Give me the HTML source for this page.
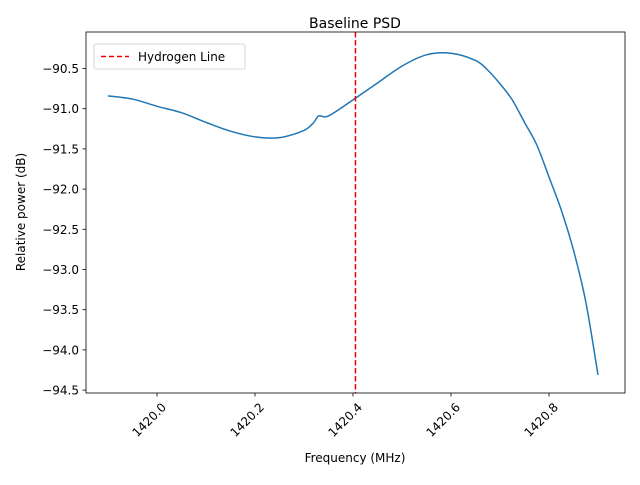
<!DOCTYPE html>
<html><head><meta charset="utf-8"><style>
body{margin:0;background:#fff;font-family:"Liberation Sans","DejaVu Sans",sans-serif}
svg text{font-family:"DejaVu Sans","Liberation Sans",sans-serif;font-size:12px;fill:#000}
</style></head><body>
<svg id="chart" width="640" height="480" xmlns="http://www.w3.org/2000/svg">
<rect width="640" height="480" fill="#fff"/>
<text x="355" y="28" text-anchor="middle" style="font-size:14px">Baseline PSD</text>
<g id="plot"></g>
<rect x="86" y="32" width="539" height="361" fill="none" stroke="#000" stroke-width="0.8"/>
<text x="355" y="462" text-anchor="middle">Frequency (MHz)</text>
<text transform="translate(25,212) rotate(-90)" text-anchor="middle">Relative power (dB)</text>
<g>
<rect x="94" y="44" width="151" height="25" rx="2" fill="#fff" stroke="#ccc" stroke-width="0.8"/>
<line x1="101" y1="56.5" x2="129" y2="56.5" stroke="#e00" stroke-width="1.5" stroke-dasharray="5,3"/>
<text x="138" y="61">Hydrogen Line</text>
</g>
</svg>
<script>
const freqs=[1419.9,1419.95,1420.0,1420.05,1420.1,1420.15,1420.2,1420.25,1420.3,1420.32,1420.33,1420.35,1420.4,1420.45,1420.5,1420.55,1420.6,1420.65,1420.675,1420.7,1420.725,1420.75,1420.775,1420.8,1420.825,1420.85,1420.875,1420.9];
const power=[-90.84,-90.88,-90.97,-91.05,-91.17,-91.28,-91.35,-91.36,-91.27,-91.17,-91.09,-91.09,-90.89,-90.68,-90.47,-90.33,-90.31,-90.40,-90.52,-90.69,-90.89,-91.17,-91.45,-91.85,-92.26,-92.76,-93.40,-94.31];
const xTicks=[1420.0,1420.2,1420.4,1420.6,1420.8];
const yTicks=[-90.5,-91.0,-91.5,-92.0,-92.5,-93.0,-93.5,-94.0,-94.5];
const hydrogenLine=[1420.405];
const xs=f=>157+(f-1420.0)*490;
const ys=v=>68.5+(-90.5-v)*80.4;
const NS="http://www.w3.org/2000/svg";
const g=document.getElementById('plot');
function mk(t,a){const e=document.createElementNS(NS,t);for(const k in a)e.setAttribute(k,a[k]);g.appendChild(e);return e;}
xTicks.forEach(t=>{const x=xs(t);
const l=mk('line',{x1:x,y1:393,x2:x,y2:396.5,stroke:'#000','stroke-width':0.8});


const tx=mk('text',{transform:`translate(${x+4},${402}) rotate(-45)`,'text-anchor':'end',dy:'0.7em'});


tx.textContent=t.toFixed(1);});
yTicks.forEach(t=>{const y=ys(t);
const l=mk('line',{x1:82.5,y1:y,x2:86,y2:y,stroke:'#000','stroke-width':0.8});


const tx=mk('text',{x:79,y:y+4.5,'text-anchor':'end'});


tx.textContent=t.toFixed(1).replace('-','−');});
const P=freqs.map((f,i)=>[xs(f),ys(power[i])]);
let d='M'+P[0][0]+','+P[0][1];
for(let i=0;i<P.length-1;i++){const p0=P[Math.max(0,i-1)],p1=P[i],p2=P[i+1],p3=P[Math.min(P.length-1,i+2)];
const c1=[p1[0]+(p2[0]-p0[0])/6,p1[1]+(p2[1]-p0[1])/6],c2=[p2[0]-(p3[0]-p1[0])/6,p2[1]-(p3[1]-p1[1])/6];
d+=` C${c1[0]},${c1[1]} ${c2[0]},${c2[1]} ${p2[0]},${p2[1]}`;}
const p=mk('path',{d:d,fill:'none',stroke:'#1f77b4','stroke-width':1.5});


hydrogenLine.forEach(h=>{const v=mk('line',{x1:xs(h),y1:32,x2:xs(h),y2:393,stroke:'#e00','stroke-width':1.5,'stroke-dasharray':'5.5,2.5'});

});
</script>
</body></html>
